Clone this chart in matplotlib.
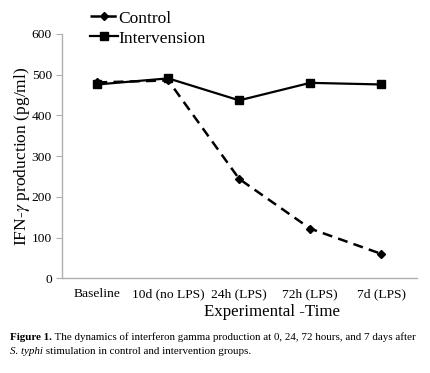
import matplotlib
matplotlib.use("Agg")
import matplotlib.pyplot as plt

categories = ["Baseline", "10d (no LPS)", "24h (LPS)", "72h (LPS)", "7d (LPS)"]
control = [481, 486, 244, 122, 60]
intervention = [476, 491, 437, 480, 476]
yticks = [0, 100, 200, 300, 400, 500, 600]

plt.rcParams['font.family'] = ['Liberation Serif', 'DejaVu Serif']
plt.rcParams['mathtext.fontset'] = 'stix'

fig = plt.figure(figsize=(4.30, 3.73), dpi=100)
ax = fig.add_axes([0.1435, 0.2539, 0.8256, 0.655])
x = list(range(len(categories)))
ax.plot(x, control, color='black', linestyle=(0, (4, 2.5)), linewidth=1.8,
        marker='D', markersize=4.5, label='Control')
ax.plot(x, intervention, color='black', linestyle='-', linewidth=1.6,
        marker='s', markersize=6, label='Intervension')
ax.set_xlim(-0.5, 4.5)
ax.set_ylim(0, 600)
ax.set_yticks(yticks)
ax.set_xticks(x)
ax.set_xticklabels(categories, fontsize=9.7)
ax.tick_params(axis='y', labelsize=9.7, length=4, color='#b0b0b0', width=0.8, pad=3)
ax.tick_params(axis='x', length=0, pad=7)
for s in ['top', 'right']:
    ax.spines[s].set_visible(False)
for s in ['left', 'bottom']:
    ax.spines[s].set_color('#b0b0b0')
    ax.spines[s].set_linewidth(1.0)
ax.set_xlabel('Experimental -Time', fontsize=12.2, labelpad=4)
ax.xaxis.set_label_coords(0.592, -0.105)
ax.set_ylabel(r'IFN-$\gamma$ production (pg/ml)', fontsize=12.6, labelpad=0)
leg = ax.legend(loc='upper left', bbox_to_anchor=(0.06, 1.125), frameon=False,
                fontsize=12.5, handlelength=1.6, handletextpad=0.05, labelspacing=0.22,
                borderaxespad=0)

fig.canvas.draw()
r = fig.canvas.get_renderer()

def place(pieces, xstart, y, size=7.9):
    xp = xstart
    for txt, kw in pieces:
        t = fig.text(xp, y, txt, fontsize=size, va='baseline', ha='left', **kw)
        bb = t.get_window_extent(renderer=r)
        xp += bb.width / fig.bbox.width

place([("Figure 1.", dict(fontweight='bold')),
       (" The dynamics of interferon gamma production at 0, 24, 72 hours, and 7 days after", {})],
      0.023, 1 - 340/373)
place([("S. typhi", dict(style='italic')),
       (" stimulation in control and intervention groups.", {})],
      0.023, 1 - 353.5/373)

fig.savefig("out.png", dpi=100)
